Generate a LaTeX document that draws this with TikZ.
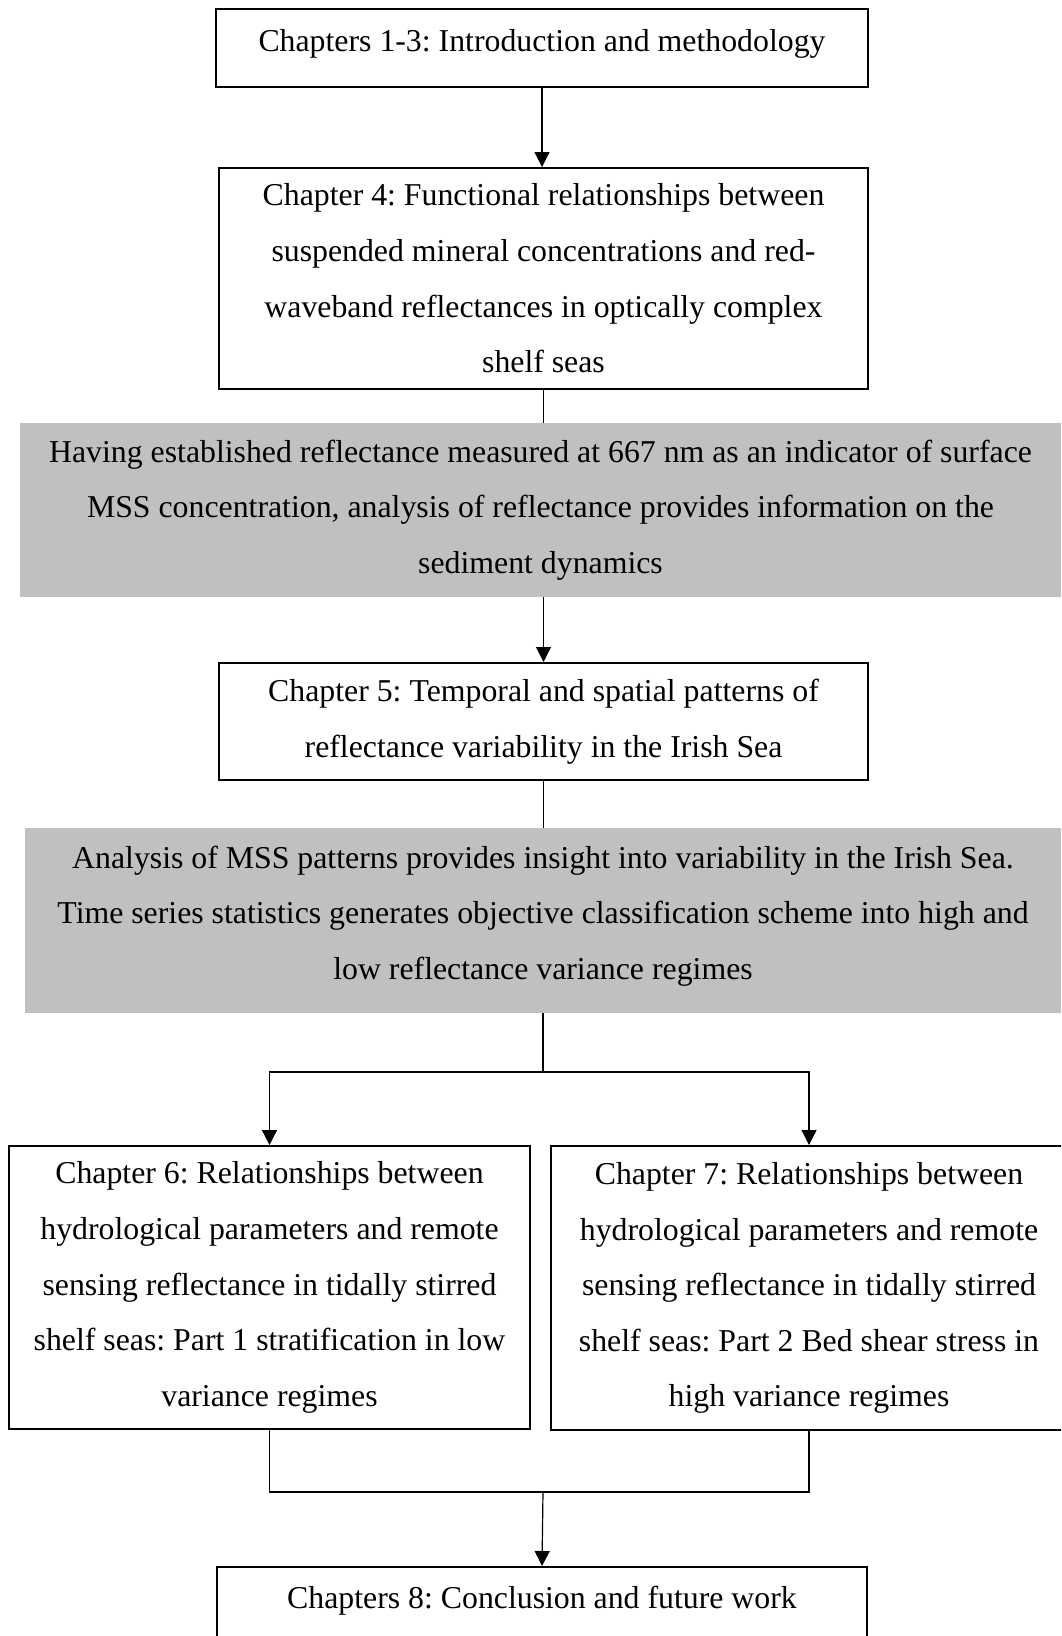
\documentclass[tikz,border=0pt]{standalone}
\usepackage{fontspec}
\setmainfont{Liberation Serif}
\frenchspacing
\usetikzlibrary{arrows.meta}
\definecolor{notegray}{RGB}{192,192,192}
\tikzset{
  chapbox/.style={draw=black, line width=2pt, align=center, inner sep=0pt,
    font=\fontsize{31.8}{55.6}\selectfont},
  notebox/.style={fill=notegray, align=center, inner sep=0pt,
    font=\fontsize{31.8}{55.6}\selectfont},
  link/.style={line width=1.2pt},
  linkarrow/.style={link, -{Triangle[length=15pt,width=15pt]}}
}

\begin{document}
\begin{tikzpicture}[x=1pt,y=-1pt]
  %%%%% START %%%%%
  \clip (0,0) rectangle (1061,1636);

  \node[chapbox, minimum width=652pt, minimum height=78pt, text depth=15pt] (ch13) at (542,48)
    {Chapters 1-3: Introduction and methodology};
  \node[chapbox, minimum width=649pt, minimum height=221pt] (ch4) at (543.5,278.5)
    {Chapter 4: Functional relationships between\\
     suspended mineral concentrations and red-\\
     waveband reflectances in optically complex\\
     shelf seas};
  \node[notebox, minimum width=1041pt, minimum height=174pt] (find1) at (540.5,510)
    {Having established reflectance measured at 667 nm as an indicator of surface\\
     MSS concentration, analysis of reflectance provides information on the\\
     sediment dynamics};
  \node[chapbox, minimum width=649pt, minimum height=117pt] (ch5) at (543.5,721.5)
    {Chapter 5: Temporal and spatial patterns of\\
     reflectance variability in the Irish Sea};
  \node[notebox, minimum width=1036pt, minimum height=185pt, text depth=16pt] (find2) at (543,920.5)
    {Analysis of MSS patterns provides insight into variability in the Irish Sea.\\
     Time series statistics generates objective classification scheme into high and\\
     low reflectance variance regimes};

  \node[chapbox, minimum width=521pt, minimum height=283pt] (ch6) at (269.5,1287.5)
    {Chapter 6: Relationships between\\
     hydrological parameters and remote\\
     sensing reflectance in tidally stirred\\
     shelf seas: Part 1 stratification in low\\
     variance regimes};
  \node[chapbox, minimum width=516pt, minimum height=284pt] (ch7) at (809,1288)
    {Chapter 7: Relationships between\\
     hydrological parameters and remote\\
     sensing reflectance in tidally stirred\\
     shelf seas: Part 2 Bed shear stress in\\
     high variance regimes};
  \node[chapbox, minimum width=650pt, minimum height=79pt, text depth=19pt] (ch8) at (542,1606.5)
    {Chapters 8: Conclusion and future work};

  % connectors
  \draw[linkarrow] (ch13.south) -- (ch13.south |- ch4.north);
  \draw[link] (ch4.south) -- (ch4.south |- find1.north);
  \draw[linkarrow] (ch5.north |- find1.south) -- (ch5.north);
  \draw[link] (ch5.south) -- (ch5.south |- find2.north);

  \coordinate (split) at (543,1072);
  \coordinate (join) at (543,1492);
  \draw[link] (find2.south) -- (split);
  \draw[linkarrow] (split) -| (ch6.north);
  \draw[linkarrow] (split) -| (ch7.north);
  \draw[link] (ch6.south) |- (join) -| (ch7.south);
  \draw[linkarrow] (join) -- (ch8.north);
  %%%%% END %%%%%
\end{tikzpicture}
\end{document}
